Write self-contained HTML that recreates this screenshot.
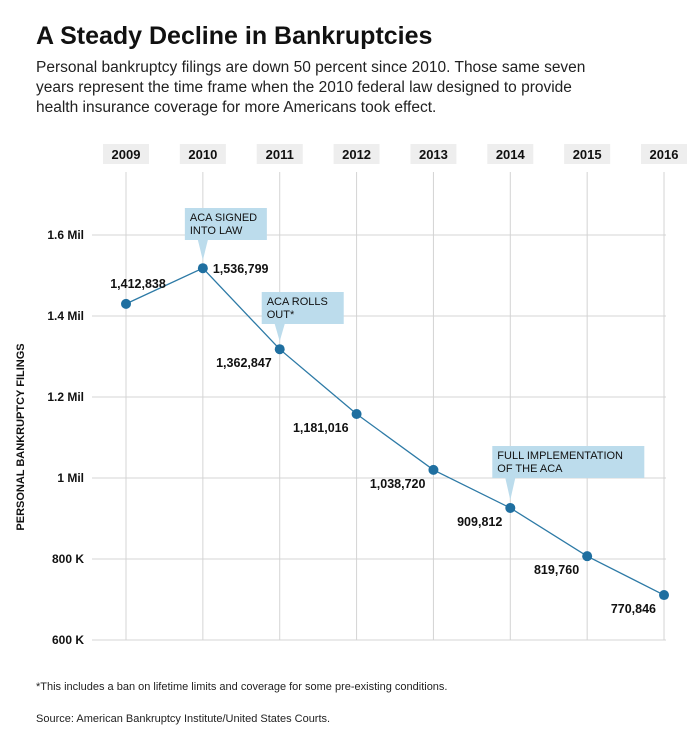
<!DOCTYPE html>
<html><head><meta charset="utf-8"><style>
body{margin:0;background:#fff;width:688px;height:734px;overflow:hidden;font-family:"Liberation Sans",sans-serif;}
svg text{font-family:"Liberation Sans",sans-serif;}
</style></head><body>
<svg id="chart" width="688" height="734">
<text x="36" y="44" font-size="25" font-weight="bold" fill="#111">A Steady Decline in Bankruptcies</text>
<g font-size="15.5" fill="#222">
<text x="36" y="72">Personal bankruptcy filings are down 50 percent since 2010. Those same seven</text>
<text x="36" y="92">years represent the time frame when the 2010 federal law designed to provide</text>
<text x="36" y="112">health insurance coverage for more Americans took effect.</text>
</g>
<g id="grid"></g><g id="marks"></g>
<text transform="translate(24,437) rotate(-90)" text-anchor="middle" font-size="11" font-weight="bold" fill="#111">PERSONAL BANKRUPTCY FILINGS</text>
<text x="36" y="690" font-size="11" fill="#222">*This includes a ban on lifetime limits and coverage for some pre-existing conditions.</text>
<text x="36" y="722" font-size="11" fill="#222">Source: American Bankruptcy Institute/United States Courts.</text>
</svg>
<script>
const years=["2009","2010","2011","2012","2013","2014","2015","2016"];
const filings=[1430000,1518000,1318000,1158000,1020000,926000,807000,711000];
const valueLabels=["1,412,838","1,536,799","1,362,847","1,181,016","1,038,720","909,812","819,760","770,846"];
const yTicks=[600000,800000,1000000,1200000,1400000,1600000];
const yTickLabels=["600 K","800 K","1 Mil","1.2 Mil","1.4 Mil","1.6 Mil"];
const annotations=[{i:1,lines:["ACA SIGNED","INTO LAW"]},{i:2,lines:["ACA ROLLS","OUT*"]},{i:5,lines:["FULL IMPLEMENTATION","OF THE ACA"]}];
const NS="http://www.w3.org/2000/svg";
function x(i){return 126+i*76.86;}
function y(v){return 640-(v-600000)/200000*81;}
function mk(t,a,p){const e=document.createElementNS(NS,t);for(const k in a)e.setAttribute(k,a[k]);p.appendChild(e);return e;}
const grid=document.getElementById('grid'),marks=document.getElementById('marks');
yTicks.forEach((v,k)=>{
 const l=mk('line',{x1:92,x2:666,y1:y(v),y2:y(v),stroke:'#d4d4d4','stroke-width':1},grid);
 
 
 const t=mk('text',{x:84,y:y(v)+4,'text-anchor':'end','font-size':12,'font-weight':'bold',fill:'#111'},grid);
 t.textContent=yTickLabels[k];
 
 
});
years.forEach((yr,i)=>{
 const l=mk('line',{x1:x(i),x2:x(i),y1:172,y2:640,stroke:'#d4d4d4','stroke-width':1},grid);
 
 
 const r=mk('rect',{x:x(i)-23,y:144,width:46,height:20,fill:'#eeeeee'},grid);
 
 
 const t=mk('text',{x:x(i),y:159,'text-anchor':'middle','font-size':13,'font-weight':'bold',fill:'#111'},grid);
 t.textContent=yr;
 
 
});
const pl=mk('polyline',{points:filings.map((v,i)=>x(i)+','+y(v)).join(' '),fill:'none',stroke:'#2d7aa6','stroke-width':1.3},marks);


annotations.forEach(a=>{
 const cx=x(a.i),py=y(filings[a.i]);
 const w=a.lines[0].length>12?152:(a.i===1?82:82),h=32;
 const bx=cx-18,by=py-68+(a.i===1?6:0)-(a.i===5?0:0);
 const top=a.i===1?208:a.i===2?292:446;
 const g=mk('g',{},marks);
 
 
 mk('rect',{x:bx,y:top,width:w,height:h,fill:'#bcdcec'},g);
 mk('polygon',{points:`${cx-5},${top+h} ${cx+5},${top+h} ${cx},${py-8}`,fill:'#bcdcec'},g);
 a.lines.forEach((s,k)=>{const t=mk('text',{x:bx+5,y:top+13+k*13,'font-size':11,fill:'#111'},g);t.textContent=s;});
});
filings.forEach((v,i)=>{
 const c=mk('circle',{cx:x(i),cy:y(v),r:5,fill:'#1f6fa0'},marks);
 
 
 let tx,ty,anc;
 if(i===0){tx=x(i)+12;ty=y(v)-16;anc='middle';}
 else if(i===1){tx=x(i)+10;ty=y(v)+5;anc='start';}
 else{tx=x(i)-8;ty=y(v)+18;anc='end';}
 const t=mk('text',{x:tx,y:ty,'text-anchor':anc,'font-size':12.5,'font-weight':'bold',fill:'#111'},marks);
 t.textContent=valueLabels[i];
 
 
});
</script>
</body></html>
